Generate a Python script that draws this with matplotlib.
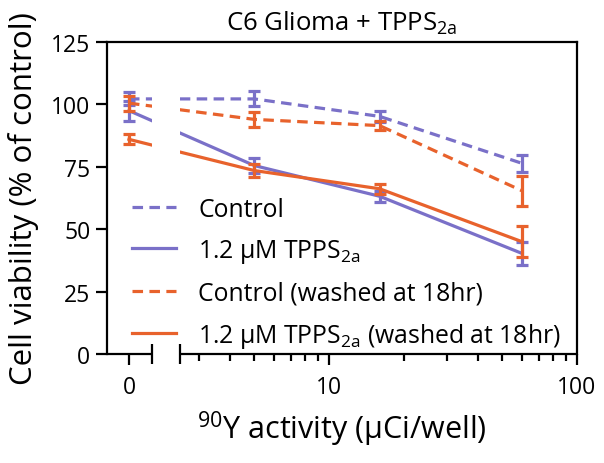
import numpy as np
import matplotlib
matplotlib.use("Agg")
import matplotlib.pyplot as plt

plt.rcParams['font.family'] = ['Open Sans', 'DejaVu Sans']
plt.rcParams['mathtext.fontset'] = 'custom'
plt.rcParams['mathtext.rm'] = 'Open Sans'
plt.rcParams['mathtext.it'] = 'Open Sans'

# dose of 90Y (uCi/well)
dose = [0, 5, 16, 60]

ctrl = [102.2, 102.2, 95.2, 76.4]
ctrl_err = [2.6, 3.0, 2.3, 3.3]
tpps = [97.5, 75.5, 63.2, 40.3]
tpps_err = [4.0, 3.0, 2.3, 4.7]
ctrl_w = [100.5, 94.0, 91.5, 65.4]
ctrl_w_err = [3.0, 2.9, 1.8, 6.0]
tpps_w = [86.0, 73.5, 66.2, 45.0]
tpps_w_err = [2.0, 2.5, 2.0, 6.2]

labels = ['Control',
          '1.2 \u03bcM TPPS$_\\mathregular{2a}$',
          'Control (washed at 18hr)',
          '1.2 \u03bcM TPPS$_\\mathregular{2a}$ (washed at 18hr)']

blue = '#7a70c8'
orange = '#e8622c'

# broken axis: 0 on its own short linear piece, then log from 2.5 up
u0 = 0.1935
brk = 2.5
slope = (np.log10(brk) - u0) / brk


def fwd(x):
    x = np.asarray(x, dtype=float)
    return np.where(x >= brk, np.log10(np.maximum(x, brk)), u0 + x * slope)


def inv(u):
    u = np.asarray(u, dtype=float)
    return np.where(u >= np.log10(brk), 10 ** u, (u - u0) / slope)


fig = plt.figure(figsize=(6.04, 4.64), dpi=100)
ax = fig.add_axes([107 / 604, 1 - 355 / 464, 470 / 604, 312 / 464])
ax.set_xscale('function', functions=(fwd, inv))
xmin = inv(0.105)
seg_end = inv(0.286)
ax.set_xlim(xmin, 100)
ax.set_ylim(0, 125)

lw = 2.3
dash = (0, (3.3, 2.0))
series = [
    (ctrl, ctrl_err, blue, dash),
    (tpps, tpps_err, blue, '-'),
    (ctrl_w, ctrl_w_err, orange, dash),
    (tpps_w, tpps_w_err, orange, '-'),
]
for (y, e, c, ls), lab in zip(series, labels):
    ax.plot(dose, y, color=c, lw=lw, ls=ls, label=lab, zorder=3)
    ax.errorbar(dose, y, yerr=e, fmt='none', ecolor=c, elinewidth=lw,
                capsize=4, capthick=lw, zorder=3)

# gap of the broken axis
ax.axvspan(seg_end, brk, color='white', zorder=4, lw=0)

ax.spines['bottom'].set_visible(False)
for s in ['left', 'top', 'right']:
    ax.spines[s].set_linewidth(1.6)
    ax.spines[s].set_zorder(5)
for a, b in [(xmin, seg_end), (brk, 100)]:
    ax.plot([a, b], [0, 0], color='black', lw=1.6, clip_on=False, zorder=6,
            solid_capstyle='butt')
ax.plot([seg_end, brk], [0, 0], ls='none', marker='|', ms=14, mew=1.6,
        color='black', clip_on=False, zorder=6)

ax.set_xticks([0, 10, 100])
ax.set_xticklabels(['0', '10', '100'])
ax.set_xticks([3, 4, 5, 6, 7, 8, 9, 20, 30, 40, 50, 60, 70, 80, 90], minor=True)
ax.set_yticks([0, 25, 50, 75, 100, 125])
ax.tick_params(axis='both', which='major', direction='out', length=8, width=1.6,
               labelsize=16.5, pad=4)
ax.tick_params(axis='x', which='major', pad=7)
ax.tick_params(axis='x', which='minor', direction='out', length=5, width=1.6)
ax.tick_params(axis='y', which='minor', left=False)

ax.set_title('C6 Glioma + TPPS$_\\mathregular{2a}$', fontsize=18.5, pad=9)
ax.set_xlabel('$^\\mathregular{90}$Y activity (\u03bcCi/well)', fontsize=22)
ax.xaxis.set_label_coords(0.5, -0.175)
ax.set_ylabel('Cell viability (% of control)', fontsize=22.5)
ax.yaxis.set_label_coords(-0.145, 0.5)

ax.legend(loc='lower left', bbox_to_anchor=(0.0, -0.065), frameon=False,
          fontsize=17.8, handlelength=1.8, handletextpad=0.9, labelspacing=0.62,
          borderaxespad=0.6)

fig.savefig('out.png', dpi=100)
